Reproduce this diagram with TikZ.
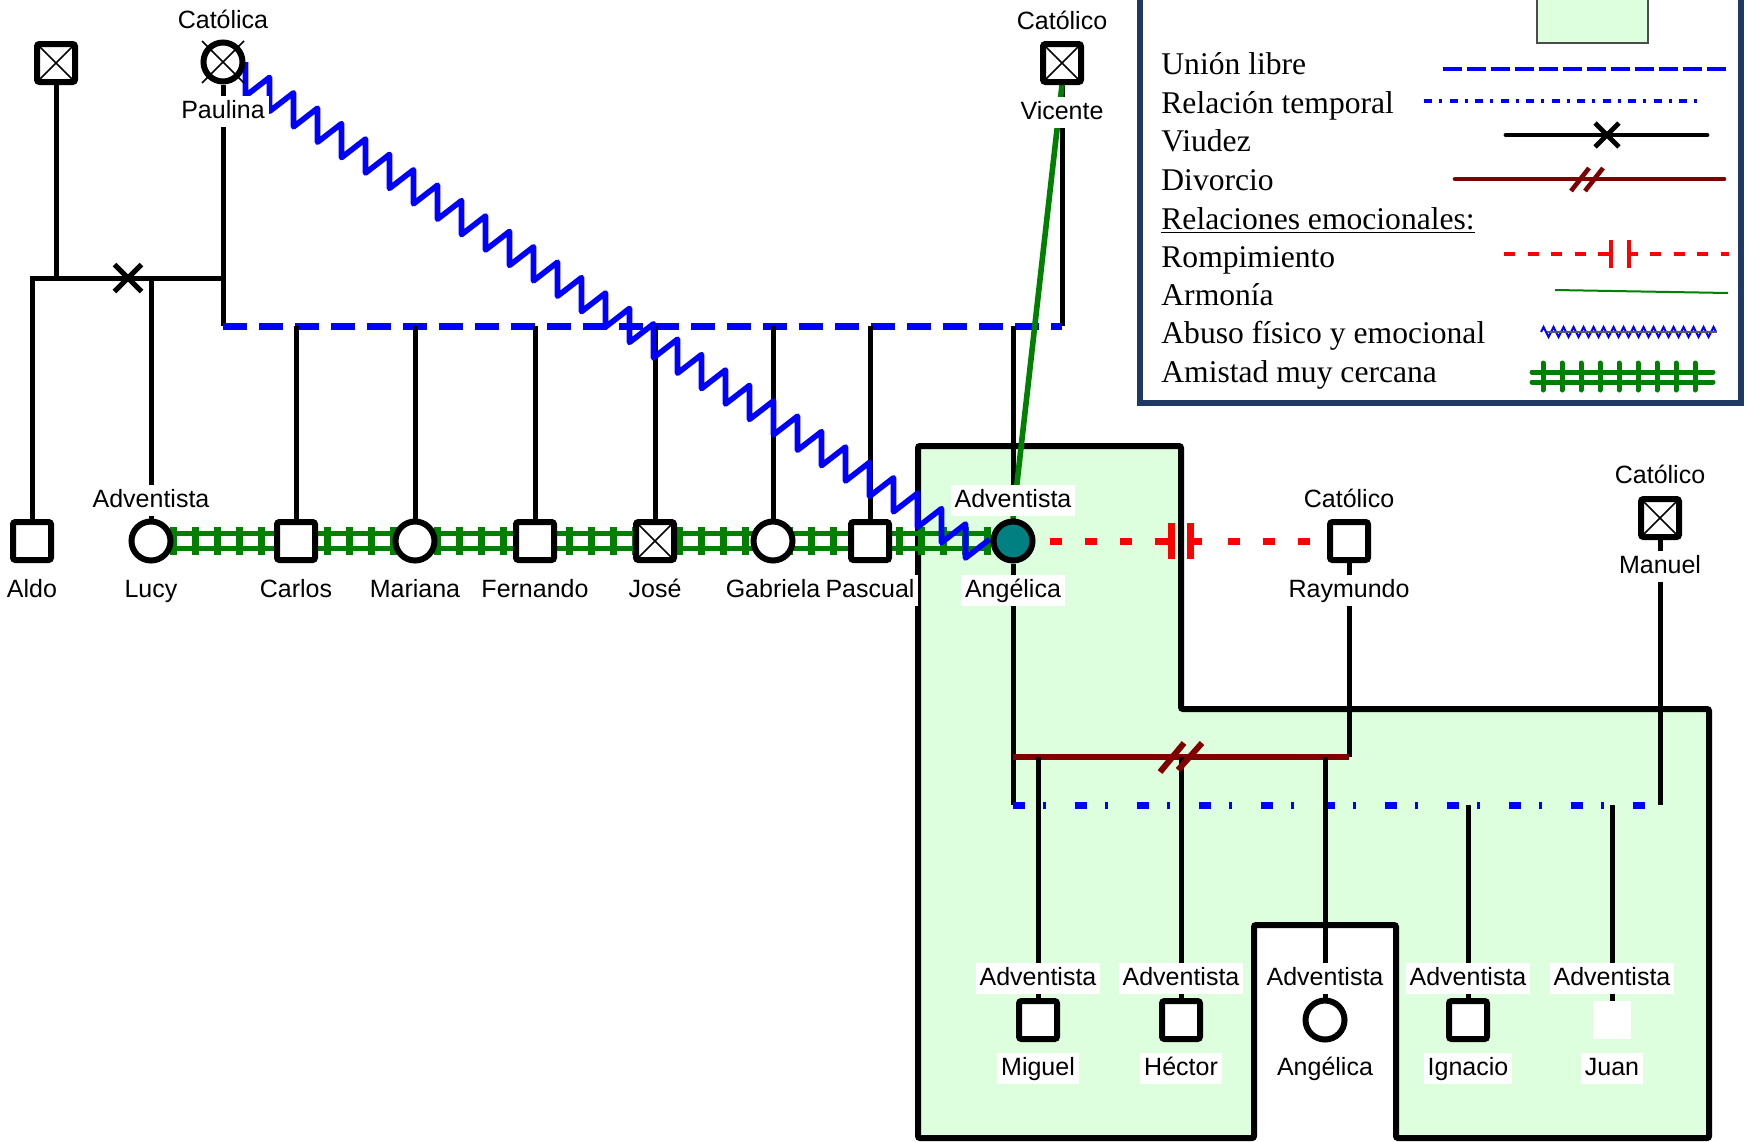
\documentclass[tikz,border=0pt]{standalone}
\usepackage{fontspec}
\setmainfont{Liberation Serif}
\newfontfamily\labfont{Liberation Sans}
\usetikzlibrary{calc,shapes.misc,decorations.pathmorphing,decorations.pathreplacing}
\definecolor{boxgreen}{RGB}{221,255,221}
\definecolor{tealf}{RGB}{0,128,128}
\definecolor{dgreen}{RGB}{0,128,0}
\definecolor{dred}{RGB}{128,0,0}
\definecolor{navyb}{RGB}{31,56,100}
\pgfdeclarelayer{boxl}
\pgfdeclarelayer{linel}
\pgfsetlayers{boxl,linel,main}
\begin{document}
\begin{tikzpicture}[x=0.5pt,y=-0.5pt,
  rel/.style={line width=2.5pt},
  sq/.style={draw, rectangle, line width=3pt, minimum size=19pt, inner sep=0pt, fill=white, rounded corners=1.2pt},
  dsq/.style={sq, path picture={\draw[line width=0.8pt] (path picture bounding box.north west) -- (path picture bounding box.south east) (path picture bounding box.north east) -- (path picture bounding box.south west);}},
  fem/.style={draw, circle, line width=3pt, minimum size=19.5pt, inner sep=0pt, fill=white},
  lbl/.style={fill=white, inner xsep=2pt, inner ysep=1.5pt, font=\labfont\fontsize{12.5}{14}\selectfont, text height=9.5pt, text depth=2.8pt, anchor=base},
  leg/.style={anchor=base west, inner sep=0pt, font=\fontsize{15.8}{18}\selectfont},
  union/.style={blue, line width=3.5pt, dash pattern=on 12pt off 6pt},
  temporal/.style={blue, line width=3.5pt, dash pattern=on 6pt off 9pt on 1.5pt off 14.5pt},
  divorce/.style={dred, line width=3pt},
  rompe/.style={red, line width=3.5pt, dash pattern=on 6pt off 11.5pt},
  friend/.style={dgreen, line width=2.5pt},
  abuse/.style={blue, line width=2.8pt, line join=round},
  harmony/.style={dgreen, line width=2.8pt}
]
\useasboundingbox (0,0) rectangle (1748,1141);

% ---------- people ----------
\node[dsq] (gf) at (56,63) {};
\node[fem] (pau) at (223,62) {};
\draw[line width=0.8pt] ([shift={(-21,-21)}]pau.center) -- ([shift={(21,21)}]pau.center)
  ([shift={(21,-21)}]pau.center) -- ([shift={(-21,21)}]pau.center);
\node[dsq] (vic) at (1062,63) {};
\node[sq] (aldo) at (32,541) {};
\node[fem] (lucy) at (151,541) {};
\node[sq] (carlos) at (296,541) {};
\node[fem] (mariana) at (415,541) {};
\node[sq] (fernando) at (535,541) {};
\node[dsq] (jose) at (655,541) {};
\node[fem] (gabriela) at (773,541) {};
\node[sq] (pascual) at (870,541) {};
\node[fem, fill=tealf] (ang) at (1013,541) {};
\node[sq] (ray) at (1349,541) {};
\node[dsq] (manuel) at (1660,518) {};
\node[sq] (miguel) at (1038,1020) {};
\node[sq] (hector) at (1181,1020) {};
\node[fem] (ang2) at (1325,1020) {};
\node[sq] (ignacio) at (1468,1020) {};
\node[rectangle, fill=white, minimum size=19pt, inner sep=0pt] (juan) at (1612,1020) {};

% ---------- labels ----------
\node[lbl] (rpau) at ([yshift=17pt]pau.center) {Católica};
\node[lbl] (npau) at ([yshift=-28pt]pau.center) {Paulina};
\node[lbl] (rvic) at ([yshift=17pt]vic.center) {Católico};
\node[lbl] (nvic) at ([yshift=-28pt]vic.center) {Vicente};
\node[lbl] (naldo) at ([yshift=-28pt]aldo.center) {Aldo};
\node[lbl] (rlucy) at ([yshift=17pt]lucy.center) {Adventista};
\node[lbl] (nlucy) at ([yshift=-28pt]lucy.center) {Lucy};
\node[lbl] (ncarlos) at ([yshift=-28pt]carlos.center) {Carlos};
\node[lbl] (nmariana) at ([yshift=-28pt]mariana.center) {Mariana};
\node[lbl] (nfernando) at ([yshift=-28pt]fernando.center) {Fernando};
\node[lbl] (njose) at ([yshift=-28pt]jose.center) {José};
\node[lbl] (ngabriela) at ([yshift=-28pt]gabriela.center) {Gabriela};
\node[lbl] (npascual) at ([yshift=-28pt]pascual.center) {Pascual};
\node[lbl] (rang) at ([yshift=17pt]ang.center) {Adventista};
\node[lbl] (nang) at ([yshift=-28pt]ang.center) {Angélica};
\node[lbl] (rray) at ([yshift=17pt]ray.center) {Católico};
\node[lbl] (nray) at ([yshift=-28pt]ray.center) {Raymundo};
\node[lbl] (rmanuel) at ([yshift=17.5pt]manuel.center) {Católico};
\node[lbl] (nmanuel) at ([yshift=-27.5pt]manuel.center) {Manuel};
\foreach \c/\n in {miguel/Miguel, hector/Héctor, ang2/Angélica, ignacio/Ignacio, juan/Juan}{
  \node[lbl] (r\c) at ([yshift=17.5pt]\c.center) {Adventista};
  \node[lbl] (n\c) at ([yshift=-27.5pt]\c.center) {\n};
}

% ---------- family box ----------
\begin{pgfonlayer}{boxl}
\draw[line width=3pt, fill=boxgreen, rounded corners=1pt] (918,446) -- (1181,446) -- (1181,709) -- (1709,709) -- (1709,1138) -- (1396,1138) -- (1396,925) -- (1254,925) -- (1254,1138) -- (918,1138) -- cycle;
\end{pgfonlayer}

% ---------- connectors ----------
\begin{pgfonlayer}{linel}
\coordinate (u1) at (0,278);
\coordinate (u2) at (0,326);
\coordinate (dv) at (0,757);
\coordinate (tp) at (0,805);
% first union (viudez)
\draw[rel] (gf.south) -- (gf.south |- u1);
\draw[rel] (aldo.north) |- (pau.south |- u1);
\draw[rel] (lucy.north |- u1) -- (lucy.north);
\node[cross out, draw, line width=2.5pt, minimum size=11pt, inner sep=0pt] (vx) at (128,278) {};
% Paulina - Vicente
\draw[rel] (pau.south) -- (pau.south |- u2);
\draw[rel] (vic.south) -- (vic.south |- u2);
\draw[union] (pau.south |- u2) -- (vic.south |- u2);
\foreach \c in {carlos,mariana,fernando,jose,gabriela,pascual,ang}
  \draw[rel] (\c.north |- u2) -- (\c.north);
% Angelica - Raymundo (divorce)
\draw[rel] (ang.south) -- (ang.south |- tp);
\draw[rel] (ray.south) -- (ray.south |- dv);
\draw[divorce] (ang.south |- dv) -- (ray.south |- dv);
% Angelica - Manuel (temporal)
\draw[rel] (manuel.south) -- (manuel.south |- tp);
\draw[temporal] (ang.south |- tp) -- (manuel.south |- tp);
\foreach \c in {miguel,hector,ang2}
  \draw[rel] (\c.north |- dv) -- (\c.north);
\foreach \c in {ignacio,juan}
  \draw[rel] (\c.north |- tp) -- (\c.north);
\coordinate (dvm) at (hector.north |- dv);
\draw[divorce] ([shift={(-21,15)}]dvm) -- ([shift={(3,-14)}]dvm);
\draw[divorce] ([shift={(-3,13)}]dvm) -- ([shift={(21,-14)}]dvm);
% friendship
\draw[friend] ([yshift=3.75pt]lucy.east) -- ([yshift=3.75pt]ang.west);
\draw[friend] ([yshift=-3.75pt]lucy.east) -- ([yshift=-3.75pt]ang.west);
\draw[dgreen, line width=3.5pt, decorate, decoration={ticks, segment length=11pt, amplitude=7pt}] (lucy.east) -- (ang.west);
% rompimiento
\coordinate (rb) at ($(ang.east)!0.5!(ray.west)$);
\draw[rompe] ([xshift=7pt]ang.east) -- ([xshift=-10.5pt]rb);
\draw[rompe] ([xshift=23.5pt]rb) -- ([xshift=-8pt]ray.west);
\draw[red, line width=3.5pt] ([xshift=-10.5pt]rb) -- ([xshift=-4.75pt]rb) ([xshift=4.75pt]rb) -- ([xshift=10.5pt]rb);
\draw[red, line width=3.5pt] ([shift={(-9.5,-18)}]rb) -- ([shift={(-9.5,18)}]rb) ([shift={(9.5,-18)}]rb) -- ([shift={(9.5,18)}]rb);
% armonia
\draw[harmony] (vic.south) -- (ang.north);
% abuso
\draw[abuse] (pau.east) \foreach \i in {1,...,31}{ -- ++(0,34) -- ++(24,-18.6) };
\end{pgfonlayer}

% ---------- legend ----------
\draw[navyb, line width=2.7pt, fill=white] (1140,-20) rectangle (1741,403);
\draw[gray!60!black, line width=0.6pt, fill=boxgreen] (1537,-10) rectangle (1648,43);
\node[leg] (lt1) at (1161,74) {Unión libre};
\node[leg] (lt2) at (1161,113) {Relación temporal};
\node[leg] (lt3) at (1161,151) {Viudez};
\node[leg] (lt4) at (1161,190) {Divorcio};
\node[leg] (lt5) at (1161,229) {\underline{Relaciones emocionales:}};
\node[leg] (lt6) at (1161,267) {Rompimiento};
\node[leg] (lt7) at (1161,305) {Armonía};
\node[leg] (lt8) at (1161,343.5) {Abuso físico y emocional};
\node[leg] (lt9) at (1161,382.5) {Amistad muy cercana};
\draw[blue, line width=2.3pt, dash pattern=on 9.25pt off 2.75pt] (1443,69) -- (1727,69);
\draw[blue, line width=1.7pt, dash pattern=on 4pt off 3.5pt on 1.5pt off 3.75pt] (1424,101) -- (1703,101);
\draw[line width=2.4pt, line cap=round] (1506,135) -- (1707,135);
\node[cross out, draw, line width=2.4pt, minimum size=9.5pt, inner sep=0pt] (lvx) at (1607,135) {};
\draw[dred, line width=2.3pt, line cap=round] (1455,179) -- (1724,179);
\draw[dred, line width=2.3pt] (1571,191) -- (1589,168) (1585,191) -- (1603,168);
\draw[red, line width=2.3pt, dash pattern=on 5.5pt off 6.3pt] (1504,254) -- (1600,254);
\draw[red, line width=2.3pt] (1600,254) -- (1611,254) (1629,254) -- (1638,254) (1611,240) -- (1611,268) (1629,240) -- (1629,268);
\draw[red, line width=2.3pt, dash pattern=on 5.5pt off 6.3pt] (1650,254) -- (1729,254);
\draw[dgreen, line width=1pt] (1555,290) -- (1728,293);
\draw[blue, line width=1pt, decorate, decoration={zigzag, amplitude=2.5pt, segment length=5pt}] (1541,332) -- (1716,332);
\draw[black!65, line width=1pt] (1547,332) -- (1717,332);
\draw[dgreen, line width=2.5pt, line cap=round] (1532,372) -- (1713,372) (1532,382) -- (1713,382);
\foreach \i in {0,...,8}
  \draw[dgreen, line width=2.5pt, line cap=round] ({1543+19*\i},363) -- ({1543+19*\i},390);
\end{tikzpicture}
\end{document}
